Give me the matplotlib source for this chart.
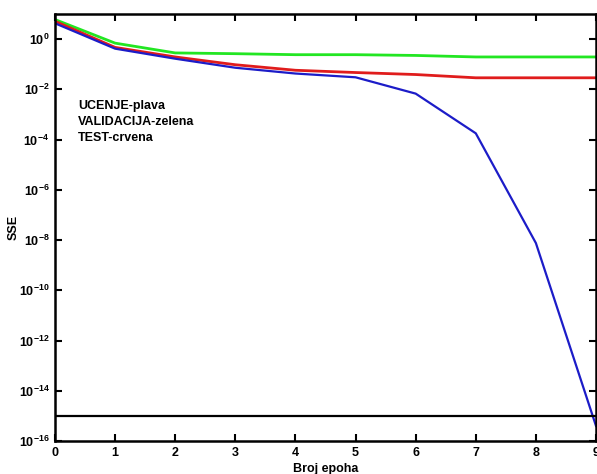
import matplotlib

matplotlib.use('Agg')
import matplotlib.pyplot as plt
import numpy as np

plt.rcParams['font.family'] = ['Liberation Sans', 'DejaVu Sans']
plt.rcParams['font.weight'] = 'bold'
plt.rcParams['mathtext.fontset'] = 'custom'
plt.rcParams['mathtext.rm'] = 'Liberation Sans:bold'
plt.rcParams['mathtext.bf'] = 'Liberation Sans:bold'

epochs = np.arange(10)
# SSE values (log10)
ucenje_log = [0.63, -0.38, -0.78, -1.14, -1.37, -1.52, -2.17, -3.75, -8.12, -15.4]
validacija_log = [0.78, -0.16, -0.55, -0.58, -0.62, -0.62, -0.65, -0.71, -0.71, -0.71]
test_log = [0.71, -0.33, -0.71, -1.02, -1.24, -1.33, -1.41, -1.54, -1.54, -1.54]
goal = 1e-15

ytick_exp = list(range(-16, 1, 2))
legend_lines = ['UCENJE-plava', 'VALIDACIJA-zelena', 'TEST-crvena']

fig = plt.figure(figsize=(5.97, 4.74), dpi=100)
ax = fig.add_axes([55 / 597, 1 - 441 / 474, 541 / 597, 427 / 474])

ax.semilogy(epochs, 10 ** np.array(validacija_log), color='#22e622', lw=2)
ax.semilogy(epochs, 10 ** np.array(test_log), color='#e01c1c', lw=2)
ax.semilogy(epochs, 10 ** np.array(ucenje_log), color='#1c1cc8', lw=1.6)
ax.axhline(goal, color='black', lw=1.6)

ax.set_xlim(0, 9)
ax.set_ylim(1e-16, 10)
ax.set_xticks(epochs)
ax.set_xticklabels([str(e) for e in epochs], fontsize=9, fontweight='bold')
ax.set_yticks([10.0 ** e for e in ytick_exp])
ax.set_yticklabels([r'$\mathbf{10^{%d}}$' % e for e in ytick_exp], fontsize=9)
ax.minorticks_off()
ax.tick_params(direction='in', length=5, width=1.5, top=True, right=True, pad=4)
for sp in ax.spines.values():
    sp.set_linewidth(1.8)

ax.set_xlabel('Broj epoha', fontsize=9, fontweight='bold', labelpad=3)
ax.set_ylabel('SSE', fontsize=9, fontweight='bold')
ax.yaxis.set_label_coords(-0.066, 0.5)

ax.text(0.043, 0.798, '\n'.join(legend_lines), transform=ax.transAxes,
        fontsize=9, fontweight='bold', va='top', ha='left', linespacing=1.45)

fig.savefig('out.png', dpi=100)
